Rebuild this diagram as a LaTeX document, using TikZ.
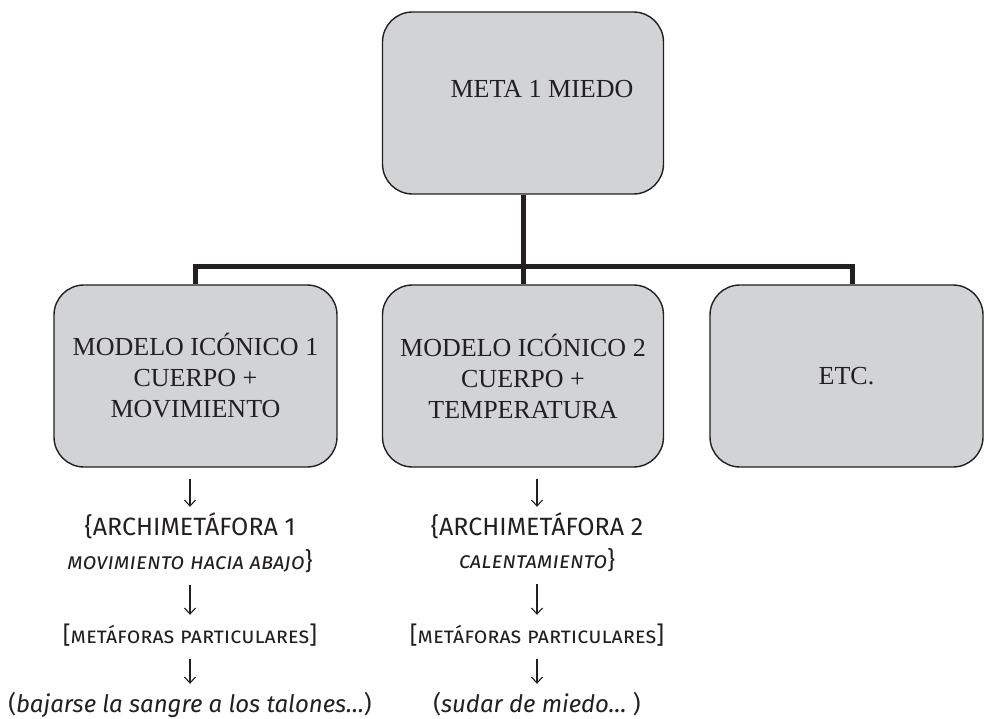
\documentclass[tikz,border=0pt]{standalone}
\usepackage{fontspec}
\setmainfont{Liberation Serif}
\newfontfamily\myriad{Fira Sans}
\usetikzlibrary{arrows.meta}
\definecolor{ink}{RGB}{35,31,32}
\definecolor{boxgray}{RGB}{209,211,212}
\newcommand{\smallit}[1]{{\fontsize{22.5}{26}\selectfont\itshape\scshape #1}}
\newcommand{\smallsc}[1]{{\fontsize{22}{26}\selectfont\scshape #1}}
\newcommand{\bigarch}[1]{{\fontsize{25}{30}\selectfont #1}}

\begin{document}
\begin{tikzpicture}[x=1pt,y=-1pt,
      model/.style={rectangle, rounded corners=30pt, draw=ink, line width=1.4pt, fill=boxgray,
        minimum width=281pt, minimum height=182pt, align=center, text=ink,
        font=\fontsize{26}{31}\selectfont},
      boxtext/.style={inner sep=0pt, text=ink, font=\fontsize{26}{31}\selectfont},
      branch/.style={line width=5pt, draw=ink},
      down/.style={line width=1.1pt, draw=ink, -{Straight Barb[length=6pt,width=11pt]},
        shorten <=11pt, shorten >=11pt},
      lbl/.style={anchor=base, inner sep=0pt, text height=17pt, text depth=5pt, text=ink,
        font=\myriad\fontsize{24}{28}\selectfont}
      ]
      \useasboundingbox (0,0) rectangle (984,719);
      \node[model] (meta) at (523,103) {};
      \node[boxtext] (metatext) at (542,89) {META 1 MIEDO};
      \node[model, minimum width=283pt] (m1) at (195.5,376) {MODELO ICÓNICO 1\\CUERPO +\\MOVIMIENTO};
      \node[model] (m2) at (523,376) {MODELO ICÓNICO 2\\CUERPO +\\TEMPERATURA};
      \node[model, minimum width=273pt] (etc) at (846.5,376) {ETC.};
      \coordinate (hub) at (523,266);
      \draw[branch] (meta.south) -- (m2.north);
      \draw[branch] (m1.north) |- (hub) -| ([xshift=5.5pt]etc.north);
      \node[lbl] (arch1) at (190,535) {\bigarch{\{ARCHIMETÁFORA 1}};
      \node[lbl] (mov1) at (190,569) {\smallit{movimiento hacia abajo}\}};
      \node[lbl] (met1) at (190,643) {[\smallsc{metáforas particulares}]};
      \node[lbl] (ej1) at (190,712) {(\textit{bajarse la sangre a los talones…})};
      \node[lbl] (arch2) at (537,535) {\bigarch{\{ARCHIMETÁFORA 2}};
      \node[lbl] (cal2) at (537,568) {\smallit{calentamiento}\}};
      \node[lbl] (met2) at (537,643) {[\smallsc{metáforas particulares}]};
      \node[lbl] (ej2) at (537,712) {(\textit{sudar de miedo…} )};
      \draw[down] (arch1.north |- m1.south) -- (arch1.north);
      \draw[down] (mov1.south) -- (met1.north);
      \draw[down] (met1.south) -- (ej1.north);
      \draw[down] (arch2.north |- m2.south) -- (arch2.north);
      \draw[down] (cal2.south) -- (met2.north);
      \draw[down] (met2.south) -- (ej2.north);
\end{tikzpicture}
\end{document}
